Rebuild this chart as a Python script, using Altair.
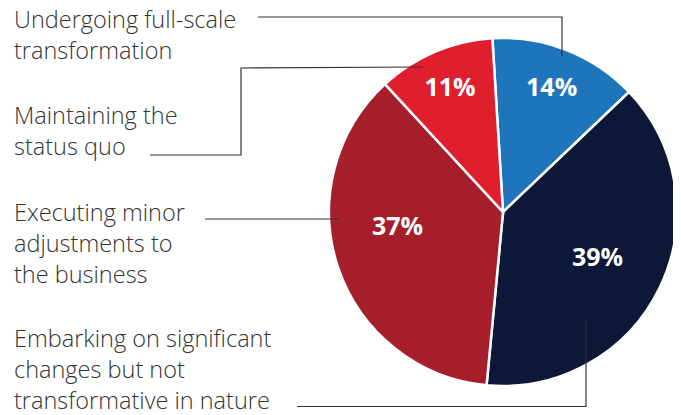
import altair as alt
import pandas as pd
import math

# ---- data ----
categories = [
    "Undergoing full-scale transformation",
    "Embarking on significant changes but not transformative in nature",
    "Executing minor adjustments to the business",
    "Maintaining the status quo",
]
values = [14, 39, 37, 11]
pct_labels = ["14%", "39%", "37%", "11%"]
colors = ["#1F75BC", "#0D1838", "#A61E2C", "#E01F2E"]

# wrapped label text (as shown on the left)
label_lines = [
    ["Undergoing full-scale", "transformation"],
    ["Embarking on significant", "changes but not", "transformative in nature"],
    ["Executing minor", "adjustments to", "the business"],
    ["Maintaining the", "status quo"],
]

# ---- layout ----
W, H = 665, 407
CX, CY, R = 495, 204, 174
START = 2 * math.pi - math.radians(3.5)
label_r = [133, 105, 105, 135]
nudge_dx = [0, 0, -6, 0]
nudge_dy = [0, 0, -19, 0]
label_x = 6
label_y = [20, 339, 213, 116]
LH = 31

# leader line vertices (annotation layout)
leaders = [
    [(250, 9), (554, 9), (554, 48)],
    [(289, 398.5), (578, 398.5), (578, 311)],
    [(197, 211), (331, 211)],
    [(142, 147), (233, 147), (233, 60), (415, 59)],
]

df = pd.DataFrame({
    "cat": categories,
    "value": values,
    "pct": pct_labels,
    "order": list(range(len(values))),
    "lr": label_r,
    "ndx": nudge_dx,
    "ndy": nudge_dy,
})

theta = alt.Theta("value:Q", stack=True,
                  scale=alt.Scale(range=[START, START + 2 * math.pi]))
color = alt.Color("cat:N", scale=alt.Scale(domain=categories, range=colors),
                  legend=None)

arcs = alt.Chart(df).mark_arc(radius=R, stroke="white", strokeWidth=2.5).encode(
    theta=theta,
    order=alt.Order("order:Q"),
    color=color,
    x=alt.value(CX),
    y=alt.value(CY),
)

pct = alt.Chart(df).transform_window(
    cum="sum(value)", sort=[alt.SortField("order")], frame=[None, 0]
).transform_joinaggregate(
    total="sum(value)"
).transform_calculate(
    mid=f"{START} + 2 * PI * (datum.cum - datum.value / 2) / datum.total"
).transform_calculate(
    px=f"{CX} + datum.lr * sin(datum.mid) + datum.ndx",
    py=f"{CY} - datum.lr * cos(datum.mid) + datum.ndy",
).mark_text(
    font="Open Sans", fontWeight="bold", fontSize=25, color="white",
    align="center", baseline="middle"
).encode(
    x=alt.X("px:Q", scale=None, axis=None),
    y=alt.Y("py:Q", scale=None, axis=None),
    text="pct:N",
)

txt_df = pd.DataFrame({
    "t": ["\n".join(l) for l in label_lines],
    "x": [label_x] * len(label_lines),
    "y": label_y,
})
texts = alt.Chart(txt_df).mark_text(
    font="Open Sans", fontWeight=300, fontSize=23.5, color="#333333", align="left",
    baseline="alphabetic", lineBreak="\n", lineHeight=LH
).encode(
    x=alt.X("x:Q", scale=None, axis=None),
    y=alt.Y("y:Q", scale=None, axis=None),
    text="t:N",
)

rows = []
for i, pts in enumerate(leaders):
    for k, (px, py) in enumerate(pts):
        rows.append({"id": i, "k": k, "x": px, "y": py})
lines = alt.Chart(pd.DataFrame(rows)).mark_line(
    color="#333333", strokeWidth=1.2, interpolate="linear"
).encode(
    x=alt.X("x:Q", scale=None, axis=None),
    y=alt.Y("y:Q", scale=None, axis=None),
    detail="id:N",
    order="k:Q",
)

chart = alt.layer(arcs, pct, lines, texts).properties(
    width=W, height=H, padding=0, autosize=alt.AutoSizeParams(type="none")
).configure_view(stroke=None)

chart.save("out.html", embed_options={"renderer": "svg", "actions": False})
